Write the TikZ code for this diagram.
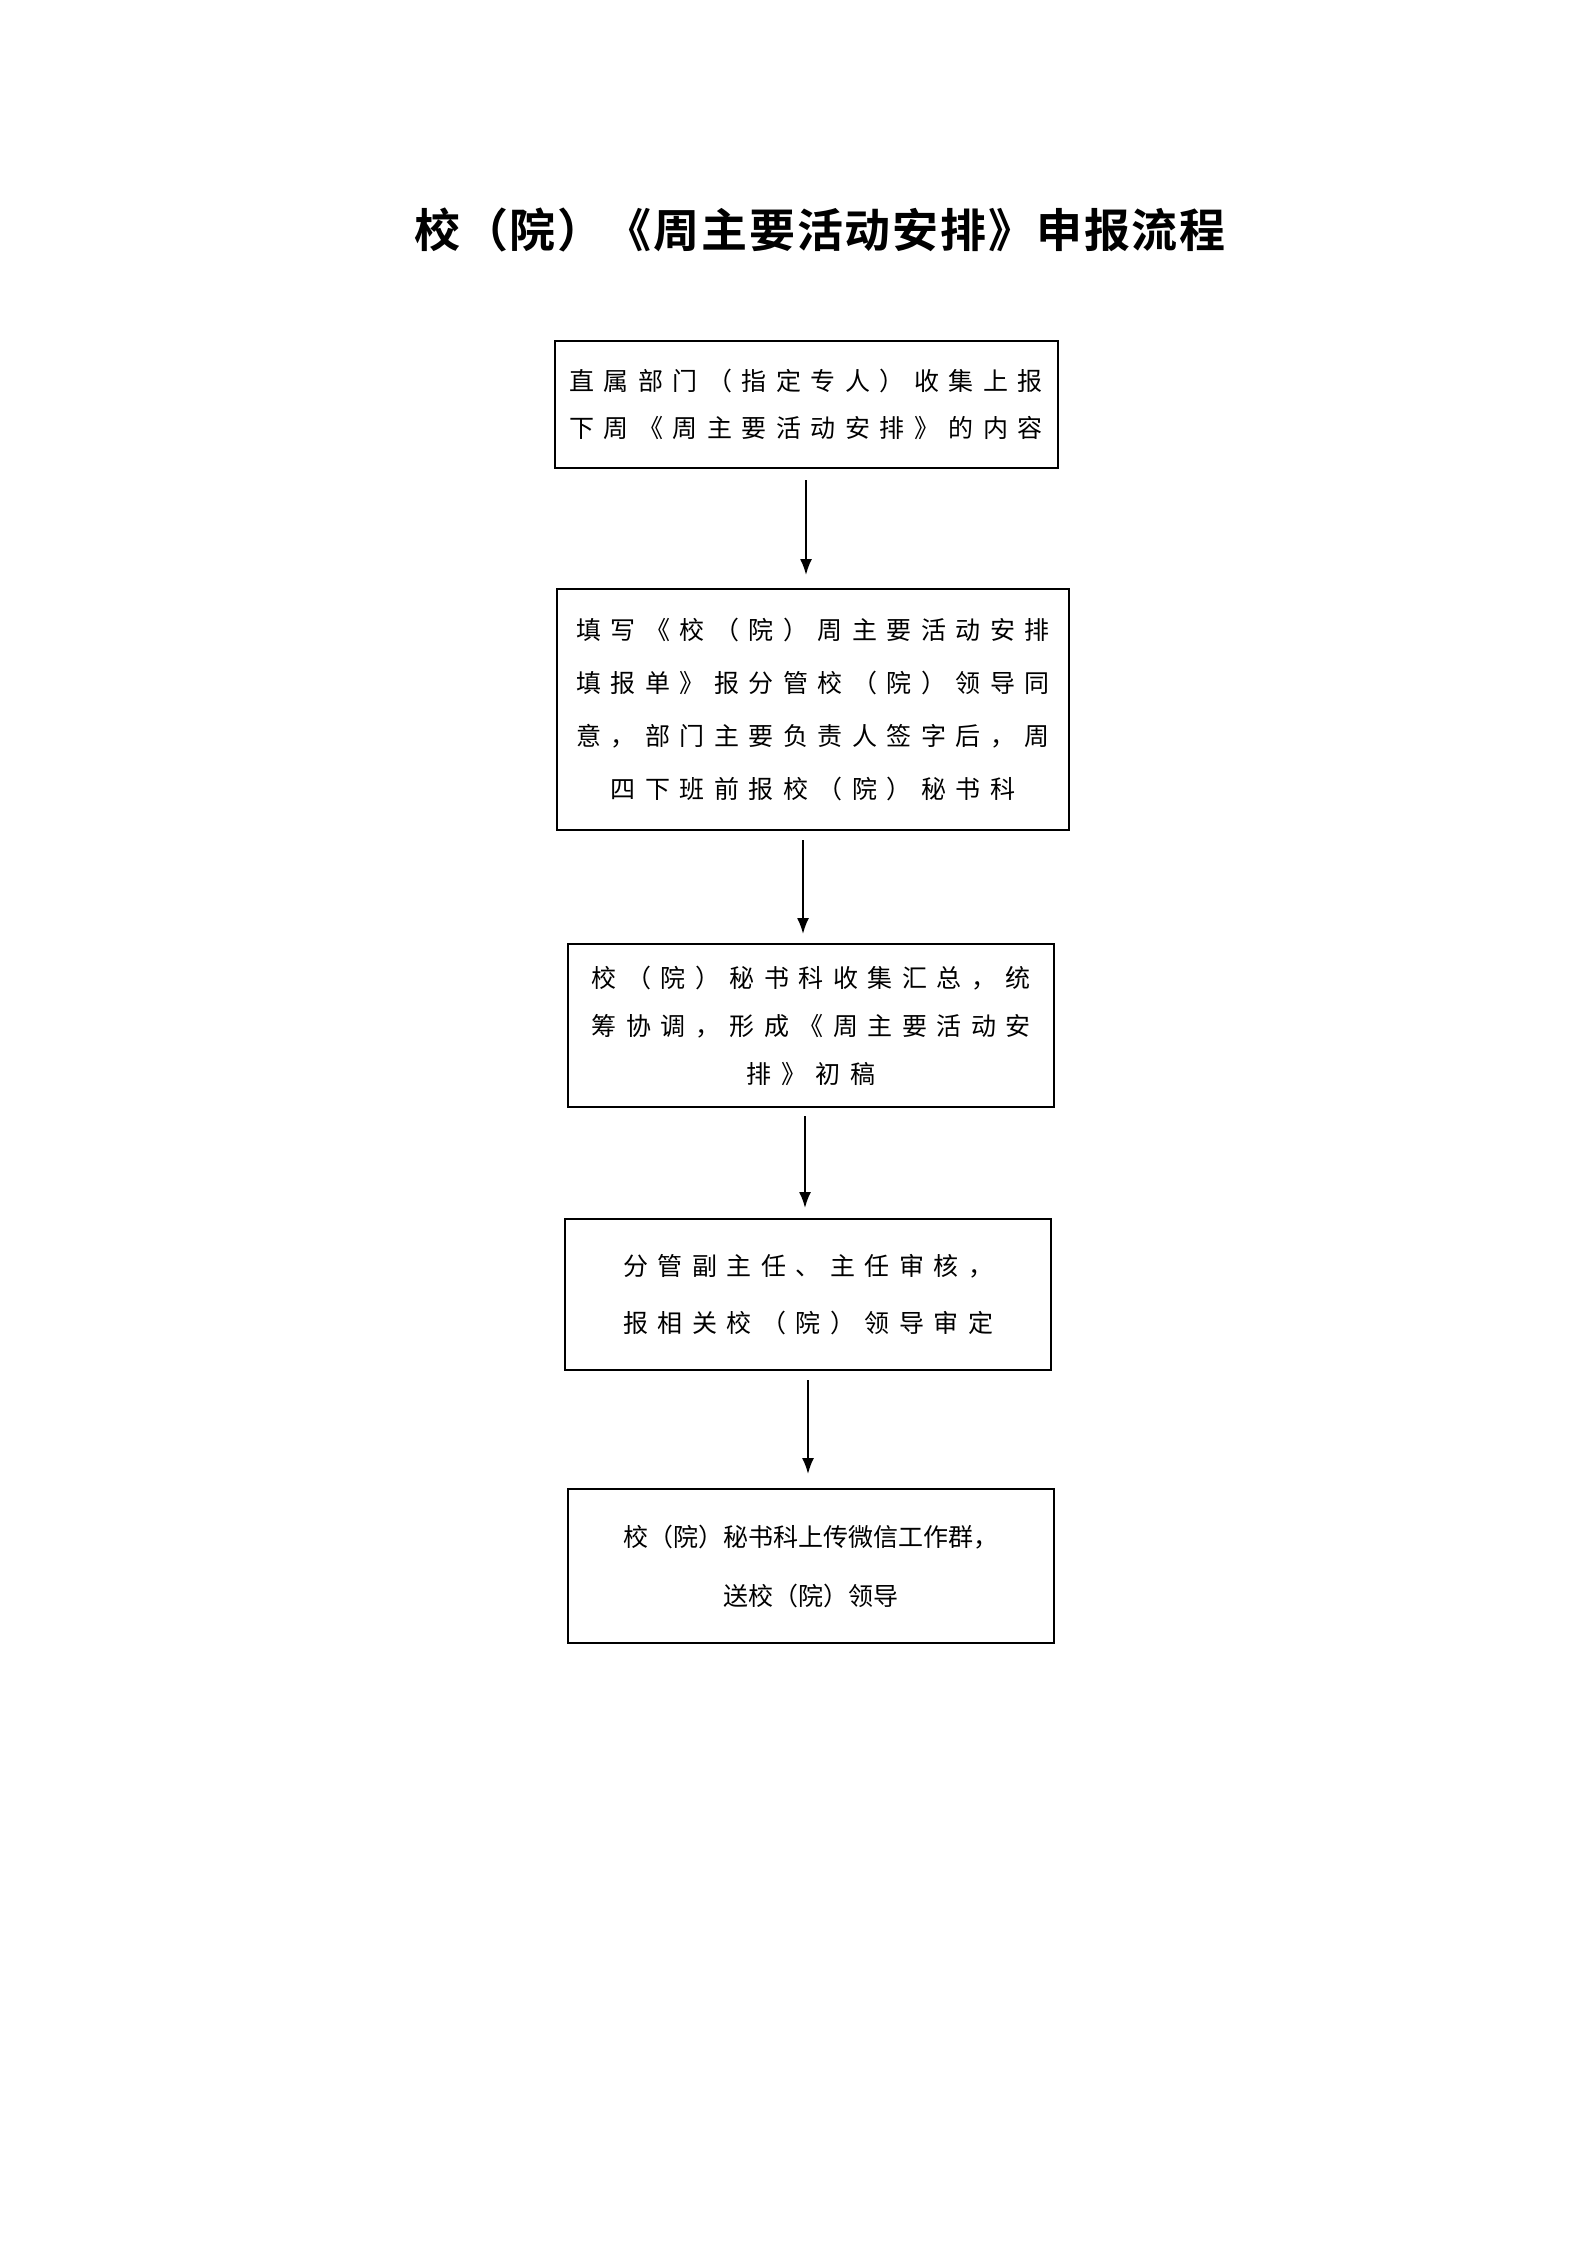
\documentclass[tikz,border=0pt]{standalone}
\usepackage{fontspec}
\setmainfont{Noto Sans CJK SC}[LetterSpace=38]
\newfontfamily\titlefont{Noto Sans CJK SC}[BoldFont=* Bold,LetterSpace=4]
\newfontfamily\tightfont{Noto Sans CJK SC}
\usetikzlibrary{arrows.meta}
\begin{document}
\begin{tikzpicture}[x=1pt,y=-1pt,
  box/.style={draw,line width=2pt,align=center,inner sep=0pt},
  flow/.style={line width=1.8pt,-{Latex[length=16,width=12]}}]
\useasboundingbox (0,0) rectangle (1587,2245);
\node[font=\titlefont\bfseries\fontsize{46}{50}\selectfont] (title) at (820,230) {校（院）《周主要活动安排》申报流程};
\node[box,minimum width=503,minimum height=127,font=\fontsize{25}{47}\selectfont] (b1) at (806,404.5)
 {直属部门（指定专人）收集上报\\下周《周主要活动安排》的内容};
\node[box,minimum width=512,minimum height=241,font=\fontsize{25}{53}\selectfont] (b2) at (813,709.5)
 {填写《校（院）周主要活动安排\\填报单》报分管校（院）领导同\\意，部门主要负责人签字后，周\\四下班前报校（院）秘书科};
\node[box,minimum width=486,minimum height=163,font=\fontsize{25}{48}\selectfont] (b3) at (811,1025.5)
 {校（院）秘书科收集汇总，统\\筹协调，形成《周主要活动安\\排》初稿};
\node[box,minimum width=486,minimum height=151,font=\fontsize{25}{57}\selectfont] (b4) at (808,1294.5)
 {分管副主任、主任审核，\\报相关校（院）领导审定};
\node[box,minimum width=486,minimum height=154,font=\tightfont\fontsize{25}{59}\selectfont] (b5) at (811,1566)
 {校（院）秘书科上传微信工作群，\\送校（院）领导};
\draw[flow] ([yshift=-11]b1.south) -- ([xshift=-7,yshift=13]b2.north);
\draw[flow] ([xshift=-10,yshift=-9]b2.south) -- ([xshift=-8,yshift=9]b3.north);
\draw[flow] ([xshift=-6,yshift=-8]b3.south) -- ([xshift=-3,yshift=10]b4.north);
\draw[flow] ([yshift=-9]b4.south) -- ([xshift=-3,yshift=14]b5.north);
\end{tikzpicture}
\end{document}
